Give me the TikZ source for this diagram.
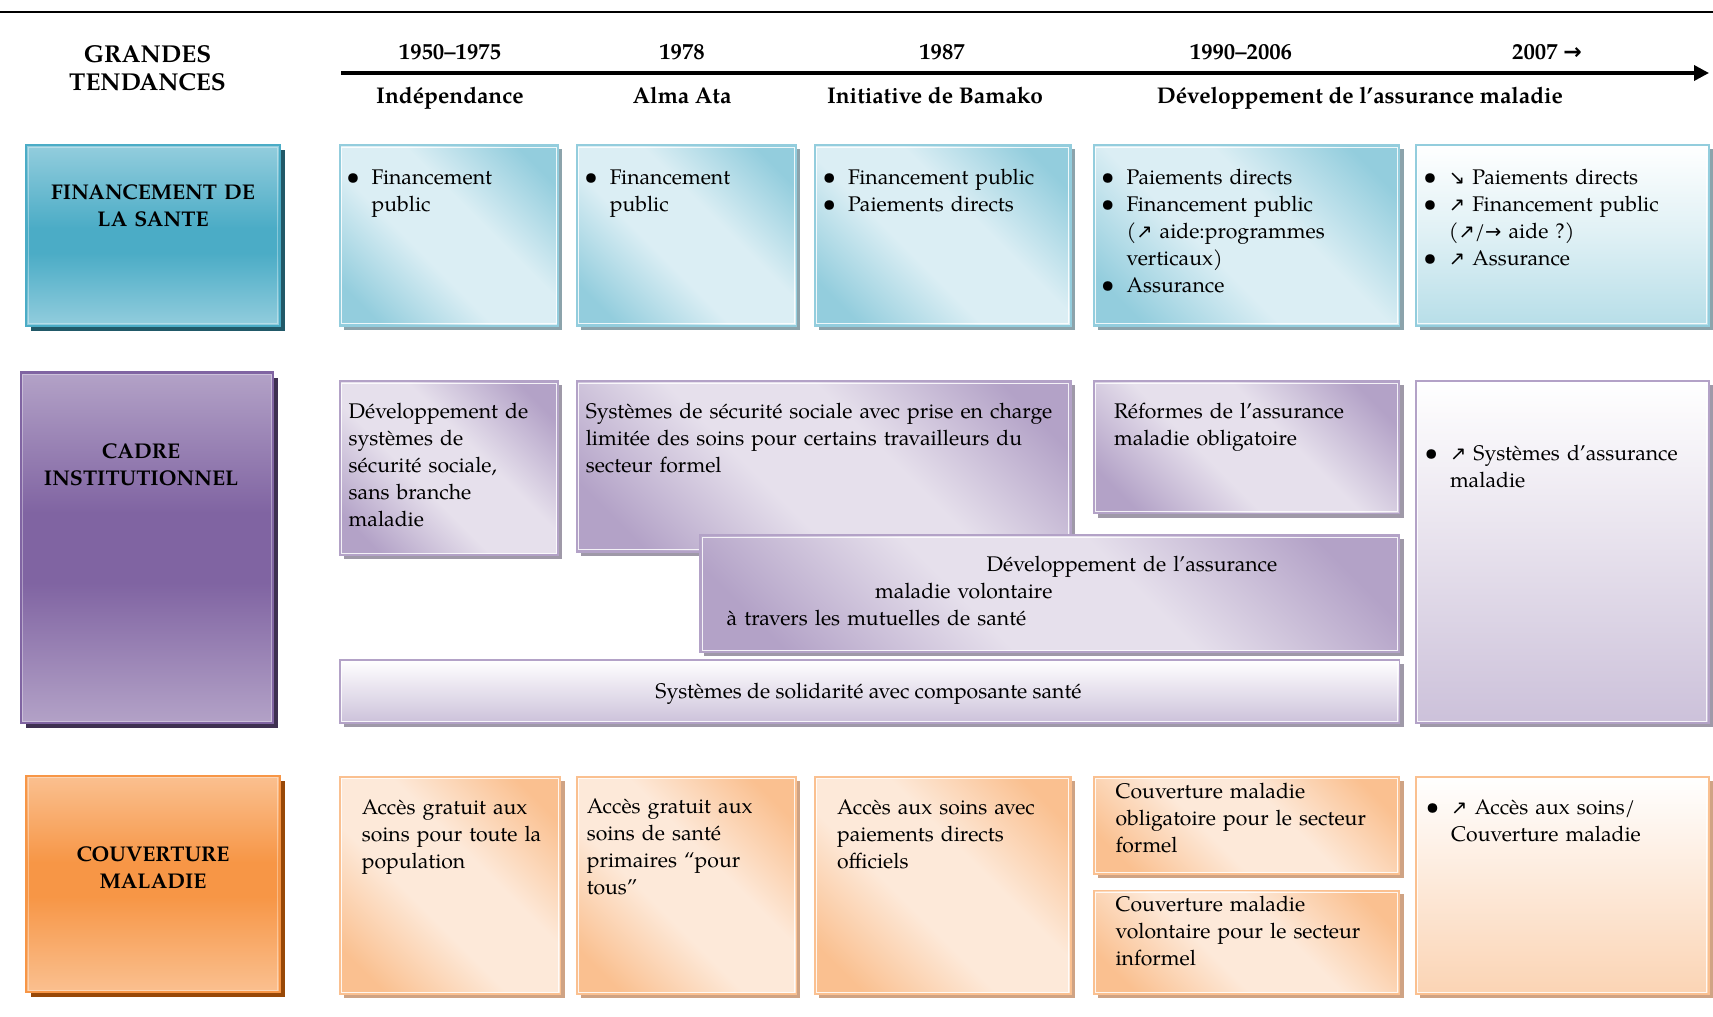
\documentclass[tikz,border=0pt]{standalone}
\usepackage{fontspec}
\setmainfont{texgyrepagella}[Extension=.otf,UprightFont=*-regular,BoldFont=*-bold,ItalicFont=*-italic,BoldItalicFont=*-bolditalic]
\newfontfamily\arrowfont{DejaVu Sans}[Scale=0.92]
\usetikzlibrary{arrows.meta}
\definecolor{tealL}{HTML}{93CDDD}\definecolor{tealM}{HTML}{4BACC6}\definecolor{tealP}{HTML}{DBEEF4}
\definecolor{tealSh}{HTML}{215968}\definecolor{tealCs}{HTML}{8CA3AB}\definecolor{tealB}{HTML}{B7DEE8}
\definecolor{purL}{HTML}{B3A2C7}\definecolor{purM}{HTML}{8064A2}\definecolor{purP}{HTML}{E6E0EC}
\definecolor{purSh}{HTML}{3F3151}\definecolor{purCs}{HTML}{9F99A8}\definecolor{purB}{HTML}{CCC1DA}
\definecolor{orL}{HTML}{FAC090}\definecolor{orM}{HTML}{F79646}\definecolor{orP}{HTML}{FDE9D9}
\definecolor{orSh}{HTML}{984807}\definecolor{orCs}{HTML}{CFA384}\definecolor{orB}{HTML}{FBD4B4}
\pgfdeclareverticalshading{tealV}{100bp}{color(0bp)=(tealL); color(25bp)=(tealL); color(45bp)=(tealM); color(52bp)=(tealM); color(75bp)=(tealL); color(100bp)=(tealL)}
\pgfdeclareverticalshading{purV}{100bp}{color(0bp)=(purL); color(25bp)=(purL); color(45bp)=(purM); color(55bp)=(purM); color(75bp)=(purL); color(100bp)=(purL)}
\pgfdeclareverticalshading{orV}{100bp}{color(0bp)=(orL); color(25bp)=(orL); color(47bp)=(orM); color(55bp)=(orM); color(75bp)=(orL); color(100bp)=(orL)}
\pgfdeclarehorizontalshading{tealD}{100bp}{color(0bp)=(tealL); color(22bp)=(tealL); color(42bp)=(tealP); color(58bp)=(tealP); color(78bp)=(tealL); color(100bp)=(tealL)}
\pgfdeclarehorizontalshading{purD}{100bp}{color(0bp)=(purL); color(22bp)=(purL); color(42bp)=(purP); color(58bp)=(purP); color(78bp)=(purL); color(100bp)=(purL)}
\pgfdeclarehorizontalshading{orD}{100bp}{color(0bp)=(orL); color(22bp)=(orL); color(42bp)=(orP); color(58bp)=(orP); color(78bp)=(orL); color(100bp)=(orL)}
% content box: x1 y1 x2 y2 fill-style shadow border
\newcommand\cbox[7]{%
  \fill[#6] (#1+4,#2+4) rectangle (#3+4,#4+4);
  \path[#5] (#1,#2) rectangle (#3,#4);
  \draw[#7, line width=1.8] (#1,#2) rectangle (#3,#4);
  \draw[white, line width=1, opacity=0.85] (#1+1.9,#2+1.9) rectangle (#3-1.9,#4-1.9);
}
\newcommand\lbox[7]{%
  \fill[#6] (#1+5,#2+5) rectangle (#3+5,#4+5);
  \path[#5] (#1,#2) rectangle (#3,#4);
  \draw[#7, line width=2.2] (#1,#2) rectangle (#3,#4);
  \draw[white, line width=0.8, opacity=0.35] (#1+2,#2+2) rectangle (#3-2,#4-2);
}
\newcommand\bul{\leavevmode\llap{{\fontsize{24}{27}\selectfont\textbullet}\hspace{12pt}}}
\newcommand\myNE{{\arrowfont ↗}}
\newcommand\mySE{{\arrowfont ↘}}
\newcommand\myR{{\arrowfont →}}
\tikzset{
  txt/.style={font=\fontsize{21.2}{27}\selectfont, inner sep=0, anchor=base west, text width=#1, align=left},
  txt/.default=420,
  lbl/.style={font=\fontsize{21.3}{27}\selectfont\bfseries, inner sep=0, anchor=base, text width=260, align=center},
  yr/.style={font=\fontsize{22.7}{26}\selectfont\bfseries, inner sep=0, anchor=base},
}
\begin{document}
\begin{tikzpicture}[x=1pt,y=-1pt]
\useasboundingbox (0,0) rectangle (1713,1017);
\fill[white] (0,0) rectangle (1713,1017);
% top rule
\coordinate (ruleL) at (0,12);
\coordinate (ruleR) at (1713,12);
\draw[line width=2] (ruleL) -- (ruleR);
% header
\node[font=\fontsize{24.4}{28.5}\selectfont\bfseries, inner sep=0, anchor=base, text width=260, align=center] (gt) at (147.5,62) {GRANDES\\TENDANCES};
\coordinate (tlS) at (341,73);
\coordinate (tlE) at (1709,73);
\draw[line width=3.5, -{Triangle[length=15,width=15]}] (tlS) -- (tlE);
\node[yr] (y1) at (450,59) {1950–1975};
\node[yr] (y2) at (682,59) {1978};
\node[yr] (y3) at (942,59) {1987};
\node[yr] (y4) at (1241,59) {1990–2006};
\node[yr] (y5) at (1547,59) {2007 {\arrowfont\bfseries\fontsize{24}{26}\selectfont →}};
\node[yr] (e1) at (450,103) {Indépendance};
\node[yr] (e2) at (682,103) {Alma Ata};
\node[yr] (e3) at (935,103) {Initiative de Bamako};
\node[yr] (e4) at (1360,103) {Développement de l’assurance maladie};
% ===== Row 1 =====
\lbox{26.2}{145.3}{279.7}{325.6}{shade,shading=tealV}{tealSh}{tealM}
\node[lbl] (L1) at (153,199) {FINANCEMENT DE\\LA SANTE};
\cbox{339.8}{145.3}{558.3}{325.6}{shade,shading=tealD,shading angle=45}{tealCs}{tealL}
\cbox{576.8}{145.3}{796.4}{325.6}{shade,shading=tealD,shading angle=45}{tealCs}{tealL}
\cbox{815}{145.3}{1070.6}{325.6}{shade,shading=tealD,shading angle=45}{tealCs}{tealL}
\cbox{1093.6}{145.3}{1399.5}{325.6}{shade,shading=tealD,shading angle=45}{tealCs}{tealL}
\cbox{1416}{145.3}{1708.7}{325.6}{top color=white,bottom color=tealB,middle color=tealB!45!white}{tealCs}{tealL}
\node[txt] (A1) at (371.5,184) {\bul Financement\\public};
\node[txt] (A2) at (609.6,184) {\bul Financement\\public};
\node[txt] (A3) at (847.8,184) {\bul Financement public\\\bul Paiements directs};
\node[txt] (A4) at (1126.4,184) {\bul Paiements directs\\\bul Financement public\\(\myNE\ aide:programmes\\verticaux)\\\bul Assurance};
\node[txt] (A5) at (1448.7,184) {\bul \mySE\ Paiements directs\\\bul \myNE\ Financement public\\(\myNE/\myR\ aide ?)\\\bul \myNE\ Assurance};
% ===== Row 2 =====
\lbox{20.8}{372.5}{273}{723}{shade,shading=purV}{purSh}{purM}
\node[lbl] (L2) at (141,458) {CADRE\\INSTITUTIONNEL};
\cbox{339.8}{381.3}{558.3}{555}{shade,shading=purD,shading angle=45}{purCs}{purL}
\cbox{576.8}{381.3}{1070.6}{551.7}{shade,shading=purD,shading angle=45}{purCs}{purL}
\cbox{1093.6}{381.3}{1399.5}{513.5}{shade,shading=purD,shading angle=45}{purCs}{purL}
\cbox{700.3}{535.3}{1399.5}{652}{shade,shading=purD,shading angle=45}{purCs}{purL}
\cbox{339.8}{660}{1399.5}{723}{top color=white,bottom color=purB}{purCs}{purL}
\cbox{1416}{381.3}{1708.7}{723}{top color=white,bottom color=purB,middle color=purP}{purCs}{purL}
\node[txt] (B1) at (348.5,418) {Développement de\\systèmes de\\sécurité sociale,\\sans branche\\maladie};
\node[txt=520] (B2) at (585.6,418) {Systèmes de sécurité sociale avec prise en charge\\limitée des soins pour certains travailleurs du\\secteur formel};
\node[txt] (B3) at (1114,418) {Réformes de l’assurance\\maladie obligatoire};
\node[txt] (B4a) at (986.5,571) {Développement de l’assurance};
\node[txt] (B4b) at (875,598) {maladie volontaire};
\node[txt] (B4c) at (726.5,625) {à travers les mutuelles de santé};
\node[font=\fontsize{21.2}{27}\selectfont, inner sep=0, anchor=base] (B5) at (868.5,698) {Systèmes de solidarité avec composante santé};
\node[txt] (B6) at (1449.8,460) {\bul \myNE\ Systèmes d’assurance\\maladie};
% ===== Row 3 =====
\lbox{26.2}{775.7}{279.7}{992}{shade,shading=orV}{orSh}{orM}
\node[lbl] (L3) at (153,861) {COUVERTURE\\MALADIE};
\cbox{339.8}{776.8}{560.5}{994.2}{shade,shading=orD,shading angle=45}{orCs}{orL}
\cbox{576.8}{776.8}{796.4}{994.2}{shade,shading=orD,shading angle=45}{orCs}{orL}
\cbox{815}{776.8}{1070.6}{994.2}{shade,shading=orD,shading angle=45}{orCs}{orL}
\cbox{1093.6}{776.8}{1399.5}{874}{shade,shading=orD,shading angle=45}{orCs}{orL}
\cbox{1093.6}{890.4}{1399.5}{994.2}{shade,shading=orD,shading angle=45}{orCs}{orL}
\cbox{1416}{776.8}{1708.7}{994.2}{top color=white,bottom color=orB,middle color=orP}{orCs}{orL}
\node[txt] (C1) at (361.6,814.5) {Accès gratuit aux\\soins pour toute la\\population};
\node[txt] (C2) at (586.7,813.5) {Accès gratuit aux\\soins de santé\\primaires “pour\\tous”};
\node[txt] (C3) at (836.9,814.5) {Accès aux soins avec\\paiements directs\\officiels};
\node[txt] (C4) at (1115.4,798) {Couverture maladie\\obligatoire pour le secteur\\formel};
\node[txt] (C5) at (1115.4,911.7) {Couverture maladie\\volontaire pour le secteur\\informel};
\node[txt] (C6) at (1451,814.5) {\bul \myNE\ Accès aux soins/\\Couverture maladie};
\end{tikzpicture}
\end{document}
